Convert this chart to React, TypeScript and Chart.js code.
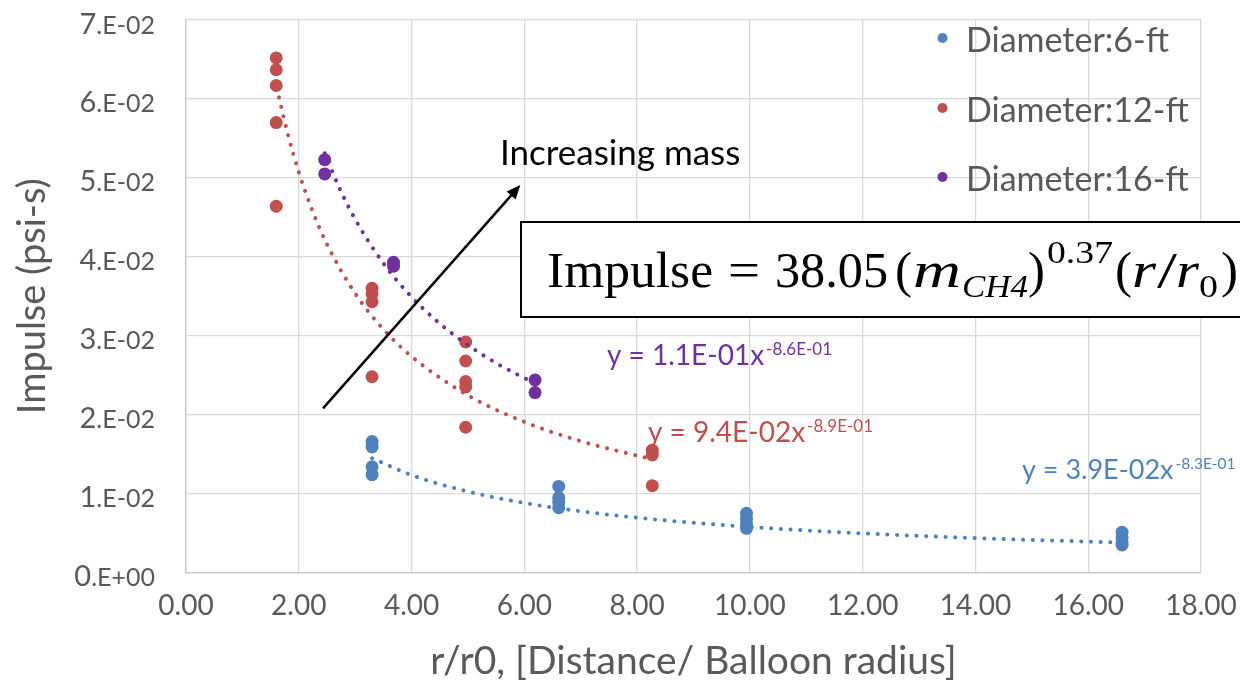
import React, { useEffect, useRef } from 'react';
import { Chart, registerables } from 'chart.js';

Chart.register(...registerables);

// ---- data ----
const seriesLabels = ['Diameter:6-ft', 'Diameter:12-ft', 'Diameter:16-ft'];
const seriesColors = ['#4f81bd', '#c0504d', '#7030a0'];

const blueX = [3.3, 3.3, 3.3, 3.3, 6.61, 6.61, 6.61, 6.61, 9.94, 9.94, 9.94, 9.94, 16.6, 16.6, 16.6, 16.6];
const blueY = [0.0166, 0.0159, 0.0134, 0.0124, 0.0109, 0.0095, 0.0089, 0.0082, 0.0075, 0.0068, 0.0062, 0.0056, 0.0051, 0.0044, 0.0038, 0.0035];

const redX = [1.6, 1.6, 1.6, 1.6, 1.6, 3.3, 3.3, 3.3, 3.3, 4.96, 4.96, 4.96, 4.96, 4.96, 8.27, 8.27, 8.27];
const redY = [0.0652, 0.0637, 0.0617, 0.057, 0.0464, 0.036, 0.0353, 0.0343, 0.0248, 0.0292, 0.0268, 0.0242, 0.0235, 0.0184, 0.0155, 0.0149, 0.011];

const purpleX = [2.46, 2.46, 3.68, 3.68, 6.19, 6.19];
const purpleY = [0.0523, 0.0505, 0.0393, 0.0388, 0.0244, 0.0228];

// trendlines
const blueTrendX = [3.3, 4, 5, 6, 7, 8, 10, 12, 14, 16.6];
const blueTrendY = [0.01448, 0.01234, 0.01026, 0.00881, 0.00776, 0.00694, 0.00577, 0.00496, 0.00436, 0.00379];
const redTrendX = [1.65, 1.8, 2, 2.25, 2.5, 3, 3.5, 4, 5, 6, 7, 8.27];
const redTrendY = [0.0602, 0.05571, 0.05072, 0.04568, 0.04159, 0.03536, 0.03082, 0.02737, 0.02245, 0.01908, 0.01664, 0.01434];
const purpleTrendX = [2.46, 2.75, 3, 3.5, 4, 4.5, 5, 5.5, 6.19];
const purpleTrendY = [0.05312, 0.04824, 0.04476, 0.03918, 0.03492, 0.03155, 0.02881, 0.02653, 0.02395];

const trendLabels = ['y = 3.9E-02x', 'y = 9.4E-02x', 'y = 1.1E-01x'];
const trendExps = ['-8.3E-01', '-8.9E-01', '-8.6E-01'];

const xTickLabels = ['0.00', '2.00', '4.00', '6.00', '8.00', '10.00', '12.00', '14.00', '16.00', '18.00'];
const yTickMantissa = ['0', '1', '2', '3', '4', '5', '6', '7'];
const yTickExp = ['.E+00', '.E-02', '.E-02', '.E-02', '.E-02', '.E-02', '.E-02', '.E-02'];

const xTitle = 'r/r0, [Distance/ Balloon radius]';
const yTitle = 'Impulse (psi-s)';
const arrowText = 'Increasing mass';

const toPts = (xs: number[], ys: number[]) => xs.map((x, i) => ({ x, y: ys[i] }));

const AXIS_TEXT = '#595959';
const SANS = 'Lato';
const SERIF = 'Liberation Serif';

const overlay = {
  id: 'overlay',
  afterDraw(chart: any) {
    const ctx: CanvasRenderingContext2D = chart.ctx;
    const xs = chart.scales.x;
    const ys = chart.scales.y;
    ctx.save();

    // y tick labels (big mantissa + small exponent)
    ctx.fillStyle = AXIS_TEXT;
    ctx.textBaseline = 'alphabetic';
    ys.ticks.forEach((t: any) => {
      const idx = Math.round(t.value * 100);
      const y = ys.getPixelForValue(t.value) + 13.5;
      ctx.font = `25px ${SANS}`;
      const small = yTickExp[idx];
      const w2 = ctx.measureText(small).width;
      ctx.textAlign = 'left';
      ctx.fillText(small, 155 - w2, y);
      ctx.font = `29px ${SANS}`;
      const big = yTickMantissa[idx];
      const w1 = ctx.measureText(big).width;
      ctx.fillText(big, 155 - w2 - w1, y);
    });

    // legend
    const legY = [52, 122, 191];
    seriesLabels.forEach((lab, i) => {
      ctx.fillStyle = seriesColors[i];
      ctx.beginPath();
      ctx.arc(942.5, legY[i] - 14, 5, 0, Math.PI * 2);
      ctx.fill();
      ctx.fillStyle = AXIS_TEXT;
      ctx.font = `34px ${SANS}`;
      ctx.textAlign = 'left';
      ctx.fillText(lab, 966, legY[i]);
    });

    // trendline equations
    const eqPos = [
      { x: 1022, y: 479, size: 27, sup: 15.5, col: seriesColors[0] },
      { x: 648, y: 442, size: 28, sup: 17, col: seriesColors[1] },
      { x: 607, y: 365, size: 28, sup: 17, col: seriesColors[2] },
    ];
    eqPos.forEach((p, i) => {
      ctx.fillStyle = p.col;
      ctx.font = `${p.size}px ${SANS}`;
      ctx.fillText(trendLabels[i], p.x, p.y);
      const w = ctx.measureText(trendLabels[i]).width;
      ctx.font = `${p.sup}px ${SANS}`;
      ctx.fillText(trendExps[i], p.x + w + 2, p.y - p.size * 0.36);
    });

    // arrow
    const x0 = xs.getPixelForValue(2.43), y0 = ys.getPixelForValue(0.0208);
    const x1 = xs.getPixelForValue(5.93), y1 = ys.getPixelForValue(0.0491);
    const ang = Math.atan2(y1 - y0, x1 - x0);
    const head = 14;
    ctx.strokeStyle = '#000';
    ctx.lineWidth = 2.5;
    ctx.beginPath();
    ctx.moveTo(x0, y0);
    ctx.lineTo(x1 - Math.cos(ang) * head * 0.8, y1 - Math.sin(ang) * head * 0.8);
    ctx.stroke();
    ctx.fillStyle = '#000';
    ctx.beginPath();
    ctx.moveTo(x1, y1);
    ctx.lineTo(x1 - head * Math.cos(ang) + 6 * Math.sin(ang), y1 - head * Math.sin(ang) - 6 * Math.cos(ang));
    ctx.lineTo(x1 - head * Math.cos(ang) - 6 * Math.sin(ang), y1 - head * Math.sin(ang) + 6 * Math.cos(ang));
    ctx.closePath();
    ctx.fill();

    ctx.font = `35px ${SANS}`;
    ctx.fillStyle = '#000';
    ctx.fillText(arrowText, 500, 165);

    // equation box
    ctx.fillStyle = '#fff';
    ctx.fillRect(521, 222, 760, 95);
    ctx.strokeStyle = '#000';
    ctx.lineWidth = 2;
    ctx.strokeRect(521, 222, 760, 95);
    ctx.fillStyle = '#000';
    const base = 287;
    const seg = (t: string, x: number, y: number, font: string, w?: number) => {
      ctx.font = font;
      if (w) {
        const m = ctx.measureText(t).width;
        ctx.save();
        ctx.translate(x, y);
        ctx.scale(w / m, 1);
        ctx.fillText(t, 0, 0);
        ctx.restore();
      } else {
        ctx.fillText(t, x, y);
      }
    };
    const N = `50px ${SERIF}`;
    const I = `italic 50px ${SERIF}`;
    const S = `31px ${SERIF}`;
    const SI = `italic 31px ${SERIF}`;
    seg('Impulse', 547, base, N, 166);
    seg('=', 728, base, N, 32);
    seg('38.05', 775, base, N, 113);
    seg('(', 895, base, N, 17);
    seg('m', 913, base, I, 48);
    seg('CH4', 962, base + 10, SI, 66);
    seg(')', 1028, base, N, 17);
    seg('0.37', 1047, base - 24, S, 66);
    seg('(', 1115, base, N, 17);
    seg('r', 1132, base, I, 24);
    seg('/', 1157, base, N, 20);
    seg('r', 1176, base, I, 23);
    seg('0', 1199, base + 10, S, 19);
    seg(')', 1221, base, N, 17);

    ctx.restore();
  },
};

export default function App() {
  const ref = useRef<HTMLCanvasElement>(null);
  useEffect(() => {
    const canvas = ref.current!;
    const trend = (xs: number[], ys: number[], c: string) => ({
      type: 'scatter' as const,
      data: toPts(xs, ys),
      showLine: true,
      borderColor: c,
      backgroundColor: c,
      borderWidth: 4,
      borderDash: [0.1, 9.6],
      borderCapStyle: 'round' as const,
      pointRadius: 0,
      cubicInterpolationMode: 'monotone' as const,
    });
    const pts = (xs: number[], ys: number[], c: string, label: string) => ({
      label,
      data: toPts(xs, ys),
      backgroundColor: c,
      borderColor: c,
      borderWidth: 0,
      pointRadius: 6.5,
      showLine: false,
    });
    const chart = new Chart(canvas, {
      type: 'scatter',
      data: {
        datasets: [
          trend(purpleTrendX, purpleTrendY, seriesColors[2]),
          trend(redTrendX, redTrendY, seriesColors[1]),
          trend(blueTrendX, blueTrendY, seriesColors[0]),
          pts(blueX, blueY, seriesColors[0], seriesLabels[0]),
          pts(redX, redY, seriesColors[1], seriesLabels[1]),
          pts(purpleX, purpleY, seriesColors[2], seriesLabels[2]),
        ] as any,
      },
      options: {
        responsive: false,
        animation: false,
        layout: { padding: { top: 20, right: 39, left: 0, bottom: 0 } },
        plugins: { legend: { display: false }, tooltip: { enabled: false } },
        scales: {
          x: {
            type: 'linear',
            min: 0,
            max: 18,
            ticks: {
              stepSize: 2,
              autoSkip: false,
              maxRotation: 0,
              callback: (_v: any, i: number) => xTickLabels[i],
              font: { family: SANS, size: 28 },
              color: AXIS_TEXT,
              padding: 17,
            },
            grid: { color: '#d9d9d9', lineWidth: 1.3, drawTicks: false },
            border: { color: '#c6c6c6', width: 1.3 },
            title: {
              display: true,
              text: xTitle,
              font: { family: SANS, size: 39 },
              color: AXIS_TEXT,
              padding: { top: 0, bottom: 2 },
            },
            afterFit: (s: any) => {
              s.height = 114.5;
              s.paddingLeft = 0;
              s.paddingRight = 0;
            },
          },
          y: {
            type: 'linear',
            min: 0,
            max: 0.07,
            ticks: { stepSize: 0.01, display: false },
            grid: { color: '#d9d9d9', lineWidth: 1.3, drawTicks: false },
            border: { color: '#c6c6c6', width: 1.3 },
            title: {
              display: true,
              text: yTitle,
              font: { family: SANS, size: 38 },
              color: AXIS_TEXT,
              padding: { top: 10, bottom: 0 },
            },
            afterFit: (s: any) => {
              s.width = 186;
              s.paddingTop = 0;
              s.paddingBottom = 0;
            },
          },
        },
      } as any,
      plugins: [overlay],
    });
    return () => chart.destroy();
  }, []);
  return (
    <div style={{ position: 'fixed', left: 0, top: 0, width: 1240, height: 687, background: '#fff' }}>
      <canvas ref={ref} width={1240} height={687} />
    </div>
  );
}
